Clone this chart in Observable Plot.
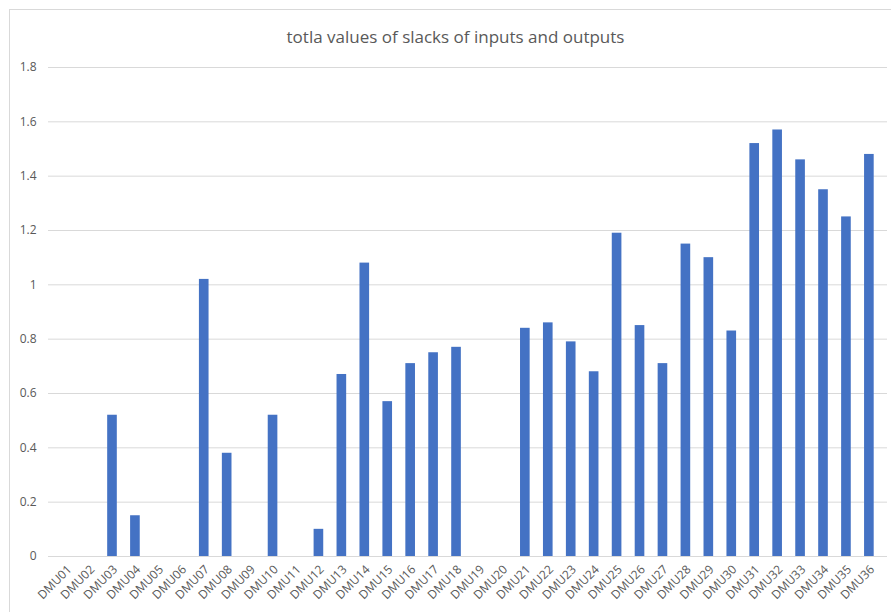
<!DOCTYPE html>
<html>
<head>
<meta charset="utf-8">
<script src="https://cdn.jsdelivr.net/npm/d3@7"></script>
<script src="https://cdn.jsdelivr.net/npm/@observablehq/plot@0.6"></script>
<style>
  html, body { margin: 0; padding: 0; background: #fff; overflow: hidden; }
  #frame { position: absolute; left: 9px; top: 9px; width: 920px; height: 640px; border: 1px solid #d9d9d9; box-sizing: border-box; }
  #wrap { position: absolute; left: 0; top: 0; width: 891px; height: 612px; }
  #title { height: 50px; line-height: 22px; padding-top: 26px; box-sizing: border-box; text-align: center; font-family: "Open Sans", sans-serif; font-size: 17px; color: #595959; padding-left: 20px; }
</style>
</head>
<body>
<div id="frame"></div>
<div id="wrap">
  <div id="title">totla values of slacks of inputs and outputs</div>
  <div id="chart"></div>
</div>
<script>
const dmus = ["DMU01","DMU02","DMU03","DMU04","DMU05","DMU06","DMU07","DMU08","DMU09","DMU10","DMU11","DMU12","DMU13","DMU14","DMU15","DMU16","DMU17","DMU18","DMU19","DMU20","DMU21","DMU22","DMU23","DMU24","DMU25","DMU26","DMU27","DMU28","DMU29","DMU30","DMU31","DMU32","DMU33","DMU34","DMU35","DMU36"];
const slacks = [0, 0, 0.52, 0.15, 0, 0, 1.02, 0.38, 0, 0.52, 0, 0.10, 0.67, 1.08, 0.57, 0.71, 0.75, 0.77, 0, 0, 0.84, 0.86, 0.79, 0.68, 1.19, 0.85, 0.71, 1.15, 1.10, 0.83, 1.52, 1.57, 1.46, 1.35, 1.25, 1.48];
const yTicks = [0, 0.2, 0.4, 0.6, 0.8, 1, 1.2, 1.4, 1.6, 1.8];

const data = dmus.map((d, i) => ({dmu: d, value: slacks[i]}));

const chart = Plot.plot({
  width: 891,
  height: 562,
  marginTop: 17,
  marginBottom: 56,
  marginLeft: 48,
  marginRight: 4,
  style: {fontFamily: "'Open Sans', sans-serif", fontSize: "12px", color: "#595959", background: "transparent"},
  x: {domain: dmus, label: null, padding: 0.58},
  y: {domain: [0, 1.8], label: null},
  marks: [
    Plot.gridY(yTicks, {stroke: "#d9d9d9", strokeOpacity: 1, strokeWidth: 1}),
    Plot.barY(data, {x: "dmu", y: "value", fill: "#4472C4"}),
    Plot.axisY({ticks: yTicks, tickSize: 0, tickPadding: 12, tickFormat: d => String(d), fontSize: 12, label: null}),
    Plot.axisX({tickSize: 0, tickRotate: -45, tickPadding: 11, fontSize: 12, dx: 3, label: null})
  ]
});
document.getElementById("chart").appendChild(chart);
</script>
</body>
</html>
